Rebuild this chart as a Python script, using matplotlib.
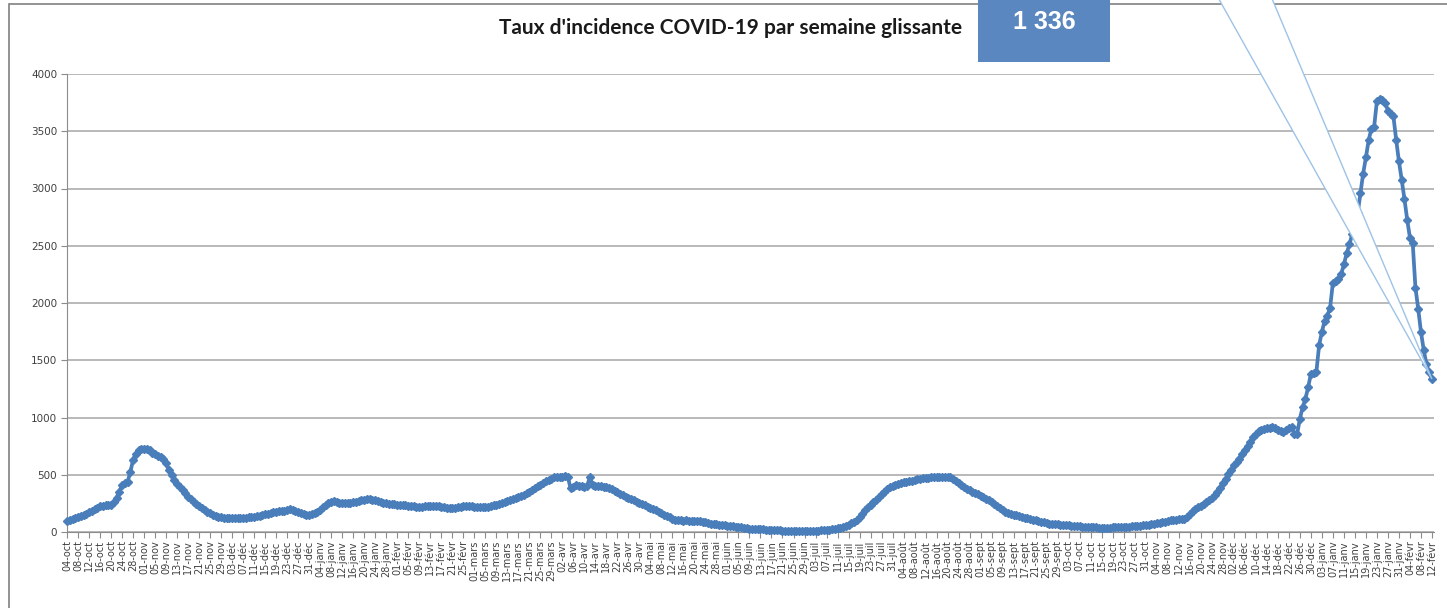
import datetime as dt
import numpy as np
import matplotlib.pyplot as plt
from matplotlib.patches import Rectangle, Polygon

# Taux d'incidence (semaine glissante), une valeur par jour à partir du 04-oct-2020
debut = dt.date(2020, 10, 4)
mois = ['janv', 'févr', 'mars', 'avr', 'mai', 'juin', 'juil', 'août', 'sept', 'oct', 'nov', 'déc']

taux = [
    95, 103, 112, 121, 130, 139, 148, 160, 172, 185, 198, 212, 226, 230, 233, 234,
    236, 262, 300, 350, 410, 428, 440, 520, 630, 680, 714, 724, 728, 728, 718, 690,
    680, 668, 655, 641, 600, 540, 500, 453, 420, 390, 366, 340, 310, 284, 265, 248,
    225, 208, 192, 178, 165, 152, 139, 133, 128, 124, 121, 119, 118, 118, 119, 120,
    123, 126, 128, 131, 135, 139, 144, 148, 154, 160, 166, 172, 177, 181, 184, 187,
    190, 198, 195, 185, 175, 163, 155, 148, 150, 158, 168, 177, 195, 215, 235, 252,
    264, 268, 262, 257, 254, 252, 250, 253, 258, 264, 270, 276, 281, 284, 285, 283,
    280, 272, 263, 256, 250, 247, 244, 241, 238, 236, 234, 232, 230, 228, 225, 222,
    221, 222, 224, 226, 227, 227, 226, 224, 220, 214, 209, 206, 208, 212, 216, 220,
    224, 227, 227, 225, 222, 219, 216, 215, 218, 222, 227, 232, 238, 244, 252, 262,
    272, 280, 288, 294, 302, 312, 325, 338, 352, 366, 382, 398, 414, 430, 444, 456,
    467, 477, 480, 482, 484, 485, 483, 380, 395, 410, 405, 398, 395, 400, 480, 412,
    405, 400, 398, 395, 390, 381, 372, 360, 346, 333, 320, 308, 298, 288, 277, 266,
    255, 244, 233, 222, 210, 199, 188, 177, 165, 152, 140, 128, 116, 105, 103, 101,
    100, 101, 100, 99, 99, 96, 92, 88, 84, 79, 74, 70, 67, 64, 61, 58,
    56, 54, 52, 48, 44, 40, 36, 32, 30, 28, 26, 24, 23, 22, 21, 20,
    19, 17, 15, 14, 12, 12, 11, 11, 10, 10, 10, 10, 11, 11, 11, 12,
    12, 13, 14, 16, 18, 20, 23, 28, 33, 39, 45, 52, 63, 75, 89, 105,
    130, 160, 192, 215, 238, 260, 279, 305, 330, 352, 372, 390, 402, 412, 420, 427,
    433, 439, 444, 449, 454, 459, 463, 468, 471, 474, 477, 479, 481, 483, 484, 484,
    481, 477, 465, 445, 425, 410, 394, 379, 365, 352, 341, 329, 316, 304, 291, 279,
    262, 245, 228, 211, 194, 177, 168, 160, 152, 145, 138, 131, 125, 119, 113, 108,
    102, 96, 90, 84, 78, 72, 70, 68, 66, 64, 62, 60, 58, 56, 54, 52,
    50, 48, 46, 44, 42, 41, 40, 39, 38, 38, 38, 39, 40, 41, 42, 43,
    44, 45, 47, 49, 51, 53, 55, 58, 61, 65, 69, 73, 77, 81, 85, 89,
    95, 102, 105, 108, 110, 113, 116, 135, 160, 182, 203, 215, 228, 244, 261, 280,
    300, 325, 348, 385, 425, 464, 505, 545, 581, 610, 639, 680, 718, 755, 790, 827,
    860, 880, 895, 903, 910, 912, 914, 905, 895, 885, 877, 890, 905, 914, 860, 856,
    987, 1089, 1161, 1263, 1379, 1390, 1399, 1631, 1748, 1843, 1887, 1960, 2177, 2195, 2210, 2250,
    2337, 2433, 2511, 2600, 2700, 2782, 2957, 3131, 3271, 3422, 3524, 3541, 3765, 3780, 3772, 3750,
    3680, 3650, 3629, 3425, 3237, 3077, 2909, 2729, 2569, 2526, 2134, 1951, 1748, 1591, 1466, 1394,
    1336,
]

jours = np.arange(len(taux))
dates = [debut + dt.timedelta(days=int(i)) for i in jours]
ticks = jours[::4]
labels = ['%02d-%s' % (dates[i].day, mois[dates[i].month - 1]) for i in ticks]

W, H = 1447, 608
fig = plt.figure(figsize=(W / 100, H / 100), dpi=100)
ax = fig.add_axes([67 / W, 1 - 532 / H, (1434 - 67) / W, (532 - 74) / H])

ax.plot(jours, taux, color='#4a7ebb', lw=2.7, marker='D', ms=4.3, clip_on=False, zorder=3)
ax.set_xlim(0, jours[-1] * 1.0015)
ax.set_ylim(0, 4000)
ax.set_yticks(range(0, 4001, 500))
ax.set_xticks(ticks)
ax.set_xticklabels(labels, rotation=90)
ax.grid(axis='y', color='#a6a6a6', lw=1.1)
ax.set_axisbelow(True)
for s in ['top', 'right']:
    ax.spines[s].set_visible(False)
for s in ['left', 'bottom']:
    ax.spines[s].set_color('#8c8c8c')
ax.tick_params(axis='both', length=4, width=0.8, color='#8c8c8c', labelsize=7,
               labelcolor='#404040', pad=2)
ax.tick_params(axis='y', labelsize=7.5, pad=3)

# cadre extérieur du graphique
fig.patches.append(Rectangle((9 / W, -0.1), 1.2, 1.1 - 4 / H, fill=False, edgecolor='#808080',
                             lw=1.2, transform=fig.transFigure, zorder=1))

fig.text(731 / W, 1 - 28 / H, "Taux d'incidence COVID-19 par semaine glissante",
         ha='center', va='center', fontsize=15, fontweight='bold', family='Lato', color='#1a1a1a')

# encadré avec la dernière valeur
fig.patches.append(Rectangle((978 / W, 1 - 62 / H), 132 / W, 62 / H + 0.01, facecolor='#5a87c0',
                             edgecolor='none', transform=fig.transFigure, zorder=4))
fig.text(1044 / W, 1 - 22 / H, f'{taux[-1]:,}'.replace(',', ' '), ha='center', va='center',
         fontsize=18, fontweight='bold', family='Liberation Sans', color='white', zorder=6)

# pointe de la bulle vers le dernier point
fig.canvas.draw()
px, py = ax.transData.transform((jours[-1], taux[-1]))
apex = fig.transFigure.inverted().transform((px, py))
fig.patches.append(Polygon([(1216 / W, 1.01), (1270 / W, 1.01), tuple(apex)], closed=True,
                           facecolor='white', edgecolor='#9dc3e6', lw=1.0,
                           transform=fig.transFigure, zorder=5))

fig.savefig('out.png', dpi=100)
